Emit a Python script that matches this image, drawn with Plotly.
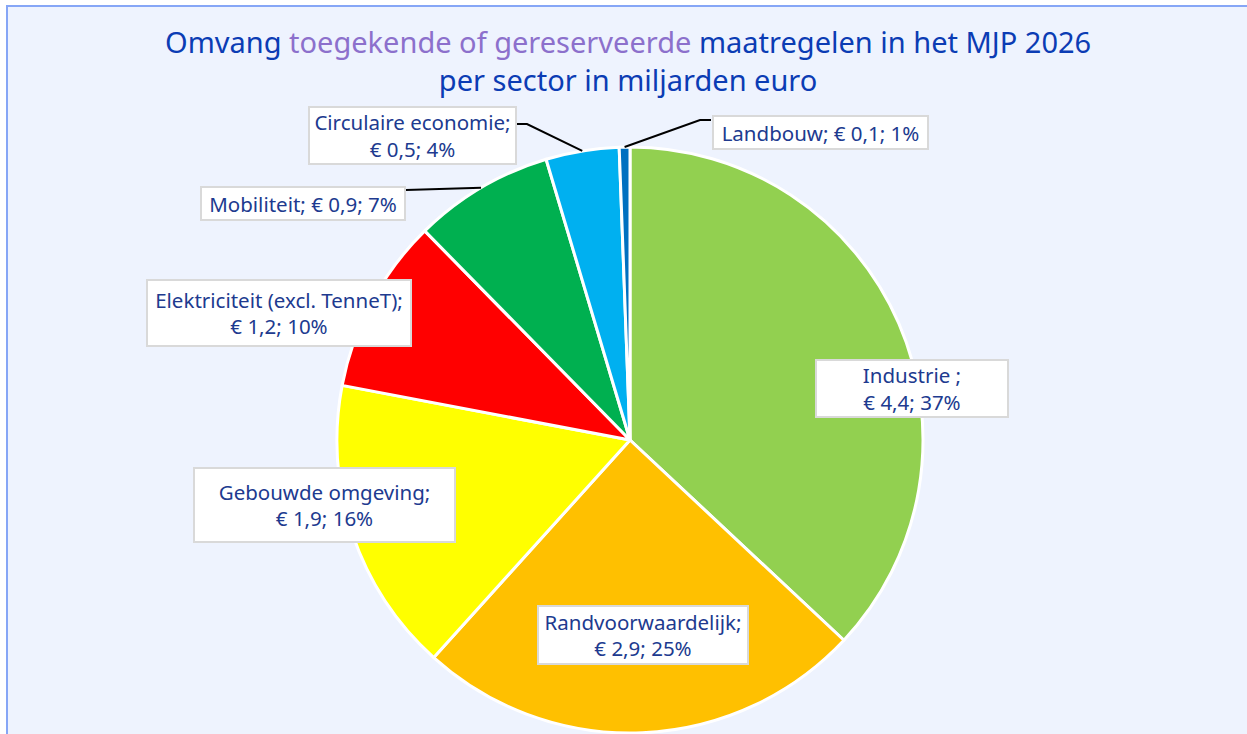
import math
import plotly.graph_objects as go

# ---------------- data ----------------
sectors = ["Industrie ;", "Randvoorwaardelijk;", "Gebouwde omgeving;",
           "Elektriciteit (excl. TenneT);", "Mobiliteit;", "Circulaire economie;",
           "Landbouw;"]
# amounts in billions of euro (labels show rounded values)
values = [4.40, 2.94, 1.94, 1.15, 0.92, 0.48, 0.07]
value_labels = ["€ 4,4", "€ 2,9", "€ 1,9", "€ 1,2", "€ 0,9", "€ 0,5", "€ 0,1"]
pct_labels = ["37%", "25%", "16%", "10%", "7%", "4%", "1%"]
colors = ["#92D050", "#FFC000", "#FFFF00", "#FF0000", "#00B050", "#00B0F0", "#0070C0"]

# ---------------- layout constants ----------------
W, H = 1247, 734
CX, CY, R = 630, 440, 293          # pie centre / radius in px


def px(x):
    return x / W


def py(y):
    return 1 - y / H


# label box centres (px), box sizes (px), single-line flag
label_pos = {
    "Industrie ;": (912, 388, 194, 59, False),
    "Randvoorwaardelijk;": (643, 635, 212, 60, False),
    "Gebouwde omgeving;": (324, 505, 263, 76, False),
    "Elektriciteit (excl. TenneT);": (279, 313, 266, 68, False),
    "Mobiliteit;": (303, 203, 206, 35, True),
    "Circulaire economie;": (412, 136, 209, 59, False),
    "Landbouw;": (820, 132, 217, 35, True),
}
# leader lines: (elbow px, box attach px)
leaders = {
    "Circulaire economie;": ((527, 124), (517, 124)),
    "Landbouw;": ((700, 120), (711, 120)),
    "Mobiliteit;": ((406, 190), (406, 190)),
}

TXT = "#203A8F"
FONT = "Noto Sans"

fig = go.Figure(go.Pie(
    labels=sectors,
    values=values,
    sort=False,
    direction="clockwise",
    rotation=0,
    marker=dict(colors=colors, line=dict(color="white", width=3)),
    textinfo="none",
    hoverinfo="label+value",
    showlegend=False,
    domain=dict(x=[px(CX - R), px(CX + R)], y=[py(CY + R), py(CY - R)]),
))

# background box with border
shapes = [dict(type="rect", xref="paper", yref="paper",
               x0=px(7), x1=1.02, y0=-0.02, y1=py(6),
               fillcolor="#EEF3FE", line=dict(color="#86A6F6", width=2),
               layer="below")]

annotations = []
total = sum(values)
cum = 0.0
for name, v, vl, pl in zip(sectors, values, value_labels, pct_labels):
    mid = (cum + v / 2) / total * 360.0
    cum += v
    cx, cy, bw, bh, single = label_pos[name]
    if single:
        text = f"{name} {vl}; {pl}"
    else:
        text = f"{name}<br>{vl}; {pl}"
    annotations.append(dict(
        xref="paper", yref="paper", x=px(cx), y=py(cy),
        xanchor="center", yanchor="middle", showarrow=False,
        text=text, align="center",
        font=dict(family=FONT, size=20.5, color=TXT),
        bgcolor="white", bordercolor="#D9D9D9", borderwidth=2, borderpad=0,
        width=bw - 4, height=bh - 4,
    ))
    if name in leaders:
        ex = CX + R * math.sin(math.radians(mid))
        ey = CY - R * math.cos(math.radians(mid))
        (elx, ely), (bx, by) = leaders[name]
        path = f"M {px(ex)},{py(ey)} L {px(elx)},{py(ely)} L {px(bx)},{py(by)}"
        shapes.append(dict(type="path", xref="paper", yref="paper", path=path,
                           line=dict(color="black", width=2), layer="above"))

# title
annotations.append(dict(
    xref="paper", yref="paper", x=px(628), y=py(61),
    xanchor="center", yanchor="middle", showarrow=False, align="center",
    text=("Omvang <span style='color:#8C70CC'>toegekende of gereserveerde</span>"
          " maatregelen in het MJP 2026<br>per sector in miljarden euro"),
    font=dict(family=FONT, size=29, color="#0B3CB4"),
))

fig.update_layout(
    width=W, height=H,
    margin=dict(l=0, r=0, t=0, b=0),
    paper_bgcolor="white",
    plot_bgcolor="white",
    shapes=shapes,
    annotations=annotations,
)

fig.write_html("out.html",
               config={"displayModeBar": False},
               post_script="document.body.style.margin='0';document.body.style.overflow='hidden';")
